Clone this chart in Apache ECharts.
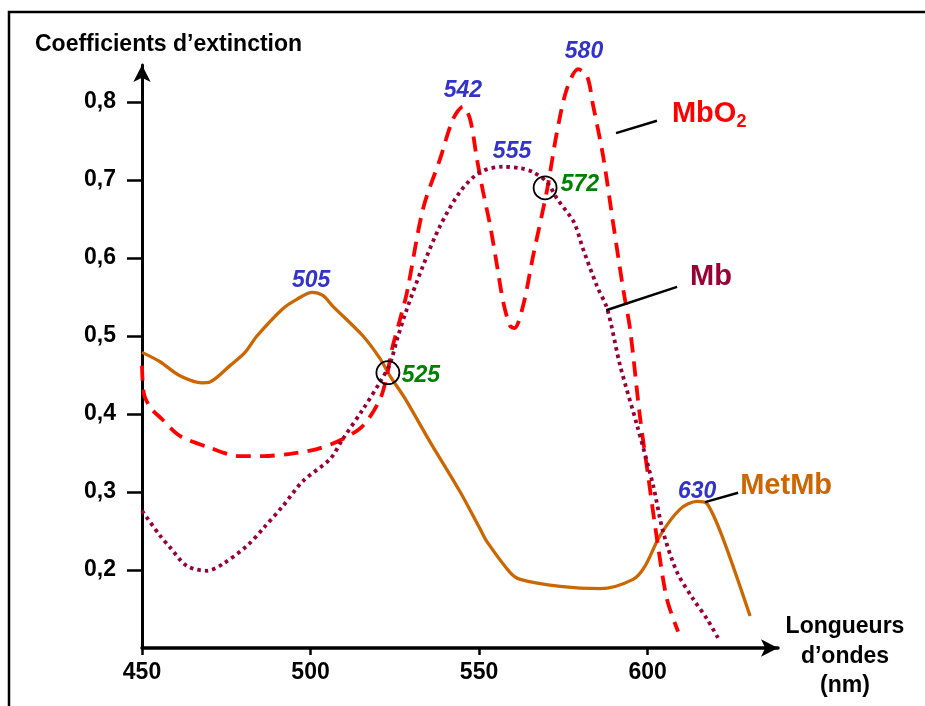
<!DOCTYPE html>
<html><head><meta charset="utf-8">
<script src="https://cdn.jsdelivr.net/npm/echarts@6/dist/echarts.min.js"></script>
<style>html,body{margin:0;padding:0;background:#fff}#c{width:925px;height:706px}</style>
</head><body><div id="c"></div>
<script>
// ---- data ----
const xTicks = [450, 500, 550, 600];
const yTicks = [0.2, 0.3, 0.4, 0.5, 0.6, 0.7, 0.8];

const metMb = [[450,0.479],[455.36,0.467],[461.23,0.449],[467.81,0.440],[470.14,0.441],[476.11,0.462],[480.56,0.479],[484.10,0.500],[491.79,0.535],[495.94,0.547],[500.49,0.556],[503.63,0.552],[506.66,0.538],[515.57,0.500],[520.63,0.471],[523.56,0.449],[528.02,0.420],[535.50,0.364],[544.41,0.300],[550.28,0.253],[552.40,0.236],[559.18,0.197],[562.22,0.188],[574.06,0.179],[585.89,0.176],[595.71,0.188],[599.25,0.205],[603.70,0.244],[609.67,0.278],[614.73,0.288],[617.67,0.285],[622.42,0.240],[630.42,0.141]];

const mbO2 = [[450,0.462],[450.61,0.425],[452.53,0.408],[455.77,0.394],[461.23,0.372],[469.33,0.358],[479.04,0.346],[485.92,0.346],[493.92,0.349],[501.91,0.355],[509.60,0.368],[515.57,0.385],[520.63,0.419],[522.65,0.449],[524.17,0.483],[526.60,0.522],[528.62,0.556],[533.38,0.663],[538.44,0.727],[542.28,0.778],[545.22,0.794],[547.34,0.778],[549.37,0.727],[551.19,0.685],[553.33,0.641],[555.34,0.590],[557.16,0.544],[559.18,0.513],[560.50,0.510],[563.03,0.538],[566.06,0.603],[570.21,0.688],[573.14,0.762],[576.08,0.817],[579.42,0.842],[582.05,0.833],[583.87,0.795],[586.80,0.731],[589.74,0.646],[592.77,0.560],[594.80,0.509],[597.73,0.397],[600.16,0.321],[602.79,0.240],[605.73,0.163],[609.07,0.121]];

const mb = [[450,0.276],[455.36,0.244],[458.30,0.229],[463.36,0.205],[469.33,0.199],[474.08,0.208],[481.17,0.231],[485.92,0.253],[491.79,0.282],[497.76,0.314],[505.75,0.342],[509.60,0.368],[515.57,0.406],[520.63,0.441],[523.56,0.464],[525.69,0.496],[528.62,0.535],[533.38,0.590],[538.44,0.641],[544.41,0.685],[550.28,0.710],[557.16,0.717],[562.32,0.715],[566.06,0.710],[570.21,0.697],[573.14,0.676],[578.13,0.646],[580.83,0.612],[584.98,0.564],[588.02,0.535],[591.86,0.462],[596.92,0.385],[601.68,0.308],[604.61,0.249],[608.76,0.197],[613.52,0.163],[617.67,0.137],[621.01,0.112]];

const peakLabels = [['505',500.19,0.571],['542',545.22,0.815],['555',559.79,0.736],['580',581.14,0.864],['630',614.73,0.301]];
const isoPoints = [[522.96,0.453],[569.60,0.690]];
const isoLabels = [['525',532.77,0.449],['572',579.92,0.694]];
const curveNames = [['MbO2',607.24,0.783,'#FF0000'],['Mb',612.61,0.574,'#990033'],['MetMb',627.48,0.306,'#CC6600']];
const leaders = [[[590.65,0.760],[602.79,0.776]],[[587.72,0.533],[608.76,0.563]],[[617.06,0.287],[626.87,0.299]]];

// ---- chart ----
const FF = 'Liberation Sans, Arial, sans-serif';
const chart = echarts.init(document.getElementById('c'), null, {renderer:'canvas'});
const fmt = v => String(v).replace('.', ',');

chart.setOption({
  animation: false,
  backgroundColor: '#fff',
  grid: {left: 142, top: 65, width: 636, height: 583, containLabel: false},
  xAxis: {
    type: 'value', min: 450, max: 638.7,
    splitLine: {show: false},
    axisLine: {show: true, onZero: false, symbol: ['none','arrow'], symbolSize: [13,17], lineStyle: {color:'#000', width: 3.5}},
    axisTick: {show: true, customValues: xTicks, length: 7, lineStyle: {color:'#000', width: 2.5}},
    axisLabel: {customValues: xTicks, margin: 13, color:'#000', fontFamily: FF, fontWeight:'bold', fontSize: 23}
  },
  yAxis: {
    type: 'value', min: 0.1, max: 0.8474,
    splitLine: {show: false},
    axisLine: {show: true, onZero: false, symbol: ['none','arrow'], symbolSize: [13,17], lineStyle: {color:'#000', width: 3}},
    axisTick: {show: true, customValues: yTicks, length: 15, lineStyle: {color:'#000', width: 2.5}},
    axisLabel: {customValues: yTicks, margin: 26, color:'#000', fontFamily: FF, fontWeight:'bold', fontSize: 23, formatter: fmt}
  },
  graphic: [
    {type:'rect', silent:true, shape:{x:9, y:12, width:1000, height:900}, style:{fill:'none', stroke:'#000', lineWidth:2.5}},
    {type:'text', silent:true, style:{text:'Coefficients d’extinction', x:35, y:45, align:'left', verticalAlign:'middle', fill:'#000', font:'bold 23px ' + FF}},
    {type:'text', silent:true, style:{text:'Longueurs\nd’ondes\n(nm)', x:845, y:612, align:'center', verticalAlign:'top', lineHeight:29.5, fill:'#000', font:'bold 23px ' + FF}}
  ],
  series: [
    {type:'line', name:'MetMb', data: metMb, smooth: 0.3, showSymbol:false, clip:false, silent:true, z:3,
      lineStyle:{color:'#CC6600', width:3.3}},
    {type:'line', name:'MbO2', data: mbO2, smooth: 0.3, showSymbol:false, clip:false, silent:true, z:4,
      lineStyle:{color:'#FF0000', width:3.8, type:[15,9], cap:'butt'}},
    {type:'line', name:'Mb', data: mb, smooth: 0.3, showSymbol:false, clip:false, silent:true, z:5,
      lineStyle:{color:'#990033', width:3.8, type:[3.5,4], cap:'butt'}},
    {type:'lines', coordinateSystem:'cartesian2d', silent:true, z:6,
      data: leaders.map(c => ({coords: c})),
      lineStyle:{color:'#000', width:2.5, opacity:1}},
    {type:'scatter', silent:true, clip:false, z:10, symbol:'circle', symbolSize:23,
      data: isoPoints,
      itemStyle:{color:'rgba(0,0,0,0)', borderColor:'#000', borderWidth:1.8, opacity:1}},
    {type:'scatter', silent:true, clip:false, z:11, symbolSize:0, itemStyle:{opacity:1},
      data: peakLabels.map(p => ({name:p[0], value:[p[1],p[2]]})),
      label:{show:true, opacity:1, position:'inside', formatter:'{b}', color:'#3333CC', fontFamily:FF, fontStyle:'italic', fontWeight:'bold', fontSize:23}},
    {type:'scatter', silent:true, clip:false, z:11, symbolSize:0, itemStyle:{opacity:1},
      data: isoLabels.map(p => ({name:p[0], value:[p[1],p[2]]})),
      label:{show:true, opacity:1, position:'inside', formatter:'{b}', color:'#008000', fontFamily:FF, fontStyle:'italic', fontWeight:'bold', fontSize:23}},
    {type:'scatter', silent:true, clip:false, z:11, symbolSize:0, itemStyle:{opacity:1},
      data: curveNames.map(p => ({name:p[0], value:[p[1],p[2]],
        label:{color:p[3], rich:{a:{color:p[3], fontSize:29, fontWeight:'bold', fontFamily:FF, lineHeight:32, verticalAlign:'top'},
                                  b:{color:p[3], fontSize:18, fontWeight:'bold', fontFamily:FF, lineHeight:10, verticalAlign:'bottom'}}}})),
      label:{show:true, opacity:1, position:'right', distance:0,
        formatter: p => p.name === 'MbO2' ? '{a|MbO}{b|2}' : '{a|' + p.name + '}'}}
  ]
});
</script>
</body></html>
